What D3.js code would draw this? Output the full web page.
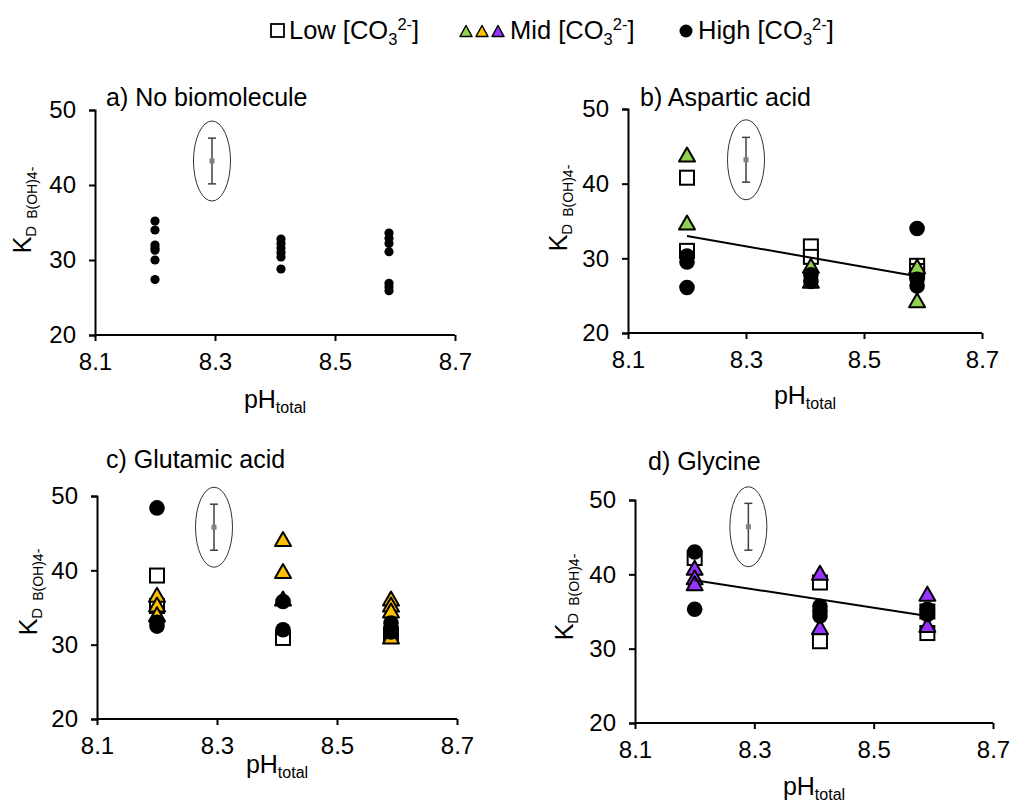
<!DOCTYPE html>
<html><head><meta charset="utf-8">
<script src="https://cdn.jsdelivr.net/npm/d3@7"></script>
<style>
html,body{margin:0;padding:0;background:#fff;}
svg text{font-family:"Liberation Sans",Arial,sans-serif;fill:#000;}
</style></head>
<body><svg id="chart" width="1013" height="803"></svg>
<script>
// ---------- data ----------
const pHTicks = [8.1, 8.3, 8.5, 8.7];
const kdTicks = [20, 30, 40, 50];
const panelTitles = ["a) No biomolecule", "b) Aspartic acid", "c) Glutamic acid", "d) Glycine"];
const legendLabels = ["Low", "Mid", "High"];
const midColors = ["#92D050", "#FFC000", "#9933FF"];

// a) No biomolecule
const noBio = [[8.20,35.2],[8.20,34.0],[8.20,32.0],[8.20,31.6],[8.20,31.3],[8.20,30.0],[8.20,27.4],
               [8.41,32.8],[8.41,32.2],[8.41,31.6],[8.41,31.0],[8.41,30.4],[8.41,28.8],
               [8.59,33.6],[8.59,32.9],[8.59,32.2],[8.59,31.1],[8.59,26.9],[8.59,26.4],[8.59,25.9]];
// b) Aspartic acid
const aspLow  = [[8.20,40.8],[8.20,31.0],[8.41,31.6],[8.41,30.2],[8.59,29.0],[8.59,28.3]];
const aspMid  = [[8.20,43.9],[8.20,34.8],[8.41,29.0],[8.41,27.0],[8.59,28.9],[8.59,24.4]];
const aspHigh = [[8.20,30.3],[8.20,29.5],[8.20,26.1],[8.41,27.8],[8.41,26.9],[8.59,34.0],[8.59,27.2],[8.59,26.3]];
const aspTrend = [[8.20,33.0],[8.59,27.6]];
// c) Glutamic acid
const gluLow  = [[8.20,39.3],[8.20,35.2],[8.41,30.9],[8.59,31.4]];
const gluMid  = [[8.20,36.7],[8.20,35.4],[8.20,34.1],[8.41,44.2],[8.41,39.9],[8.41,36.2],[8.59,36.2],[8.59,35.4],[8.59,34.6],[8.59,31.1]];
const gluHigh = [[8.20,48.4],[8.20,33.0],[8.20,32.5],[8.41,35.8],[8.41,32.0],[8.59,32.9],[8.59,32.2],[8.59,31.7]];
// d) Glycine
const glyLow  = [[8.20,42.2],[8.41,38.9],[8.41,31.0],[8.59,35.0],[8.59,32.1]];
const glyMid  = [[8.20,40.9],[8.20,39.6],[8.20,38.8],[8.41,40.2],[8.41,32.9],[8.59,37.4],[8.59,33.2]];
const glyHigh = [[8.20,43.0],[8.20,35.3],[8.41,35.7],[8.41,35.0],[8.41,34.4],[8.59,35.3],[8.59,34.6]];
const glyTrend = [[8.20,39.2],[8.59,34.4]];
// analytical uncertainty marker
const errPH   = [8.295, 8.30, 8.295, 8.29];
const errMean = [43.2, 43.2, 45.8, 46.4];
const errHalf = [3.05, 3.0, 3.1, 3.15];

// ---------- layout ----------
const layout = [
  {x0:95,  x1:455, yT:110, yB:335, title:[106,106], ylab:[31,210],  xlab:408},
  {x0:628, x1:982, yT:109, yB:333, title:[640,106], ylab:[567,208], xlab:404},
  {x0:97,  x1:457, yT:496, yB:719, title:[106,468], ylab:[37,592],  xlab:773},
  {x0:635, x1:993, yT:500, yB:723, title:[648,470], ylab:[573,597], xlab:795}
];
const series = [
  {low:[], mid:[], high:noBio, trend:null, small:true},
  {low:aspLow, mid:aspMid, high:aspHigh, trend:aspTrend, color:midColors[0]},
  {low:gluLow, mid:gluMid, high:gluHigh, trend:null, color:midColors[1]},
  {low:glyLow, mid:glyMid, high:glyHigh, trend:glyTrend, color:midColors[2]}
];

const svg = d3.select("#chart");
const FONT = 24;
const tri = (w,h) => `M0,${-h/2}L${w/2},${h/2}L${-w/2},${h/2}Z`;

layout.forEach((L, i) => {
  const S = series[i];
  const x = d3.scaleLinear().domain([8.1, 8.7]).range([L.x0, L.x1]);
  const y = d3.scaleLinear().domain([20, 50]).range([L.yB, L.yT]);
  const g = svg.append("g");

  const xa = g.append("g").attr("transform", `translate(0,${L.yB})`)
    .call(d3.axisBottom(x).tickValues(pHTicks).tickFormat(d3.format(".1f")).tickSizeOuter(0).tickSize(6).tickPadding(12));
  const ya = g.append("g").attr("transform", `translate(${L.x0},0)`)
    .call(d3.axisLeft(y).tickValues(kdTicks).tickSizeOuter(0).tickSize(6).tickPadding(13));
  [xa, ya].forEach(a => {
    a.selectAll("path,line").attr("stroke", "#000").attr("stroke-width", 2);
    a.selectAll("text").attr("font-size", FONT).attr("font-family", "Liberation Sans, Arial, sans-serif");
  });
  xa.select(".domain").attr("d", `M${L.x0},0H${L.x1}`);

  // title
  g.append("text").attr("x", L.title[0]).attr("y", L.title[1]).attr("font-size", 25).text(panelTitles[i]);

  // x label
  const xl = g.append("text").attr("x", (L.x0 + L.x1) / 2).attr("y", L.xlab).attr("text-anchor", "middle").attr("font-size", 25);
  xl.append("tspan").text("pH");
  xl.append("tspan").attr("font-size", 16).attr("dy", 5).text("total");

  // y label
  const yl = g.append("text").attr("transform", `translate(${L.ylab[0]},${L.ylab[1]}) rotate(-90)`)
    .attr("text-anchor", "middle").attr("font-size", 25);
  yl.append("tspan").text("K");
  yl.append("tspan").attr("font-size", 15).attr("dy", 5).text("D");
  yl.append("tspan").attr("font-size", 14).attr("dy", 1).attr("dx", 7).text("B(OH)4-");

  // uncertainty marker
  const ex = x(errPH[i]), ey = y(errMean[i]);
  g.append("ellipse").attr("cx", ex).attr("cy", ey).attr("rx", 18.5).attr("ry", 40)
    .attr("fill", "none").attr("stroke", "#333").attr("stroke-width", 1);
  const eg = g.append("g").attr("stroke", "#404040").attr("stroke-width", 1.5);
  eg.append("line").attr("x1", ex).attr("x2", ex).attr("y1", y(errMean[i] + errHalf[i])).attr("y2", y(errMean[i] - errHalf[i]));
  [errMean[i] + errHalf[i], errMean[i] - errHalf[i]].forEach(v =>
    eg.append("line").attr("x1", ex - 4).attr("x2", ex + 4).attr("y1", y(v)).attr("y2", y(v)));
  g.append("rect").attr("x", ex - 2.5).attr("y", ey - 2.5).attr("width", 5).attr("height", 5).attr("fill", "#808080");

  // markers
  g.selectAll(".low").data(S.low).join("rect").attr("class", "low")
    .attr("x", d => x(d[0]) - 7).attr("y", d => y(d[1]) - 7).attr("width", 14).attr("height", 14)
    .attr("fill", "#fff").attr("stroke", "#000").attr("stroke-width", 2);
  g.selectAll(".mid").data(S.mid).join("path").attr("class", "mid")
    .attr("d", tri(16, 14)).attr("transform", d => `translate(${x(d[0])},${y(d[1])})`)
    .attr("fill", S.color).attr("stroke", "#000").attr("stroke-width", 2).attr("stroke-linejoin", "round");
  g.selectAll(".high").data(S.high).join("circle").attr("class", "high")
    .attr("cx", d => x(d[0])).attr("cy", d => y(d[1])).attr("r", S.small ? 4.6 : 7.8)
    .attr("fill", "#000");

  if (S.trend) {
    g.append("path").datum(S.trend)
      .attr("d", d3.line().x(d => x(d[0])).y(d => y(d[1])))
      .attr("stroke", "#000").attr("stroke-width", 2).attr("fill", "none");
  }
});

// ---------- legend ----------
const lg = svg.append("g");
function legText(xp, label) {
  const t = lg.append("text").attr("x", xp).attr("y", 39).attr("font-size", 25.5);
  t.append("tspan").text(label + " [CO");
  t.append("tspan").attr("font-size", 16.5).attr("dy", 6).text("3");
  t.append("tspan").attr("font-size", 16.5).attr("dy", -15).text("2-");
  t.append("tspan").attr("dy", 9).text("]");
}
lg.append("rect").attr("x", 271).attr("y", 24).attr("width", 13).attr("height", 13)
  .attr("fill", "#fff").attr("stroke", "#000").attr("stroke-width", 1.8);
legText(289, legendLabels[0]);
midColors.forEach((c, k) => {
  lg.append("path").attr("d", tri(12, 11)).attr("transform", `translate(${466 + k * 16},31)`)
    .attr("fill", c).attr("stroke", "#000").attr("stroke-width", 1.5).attr("stroke-linejoin", "round");
});
legText(510, legendLabels[1]);
lg.append("circle").attr("cx", 686).attr("cy", 31).attr("r", 6.5).attr("fill", "#000");
legText(698, legendLabels[2]);
</script></body></html>
